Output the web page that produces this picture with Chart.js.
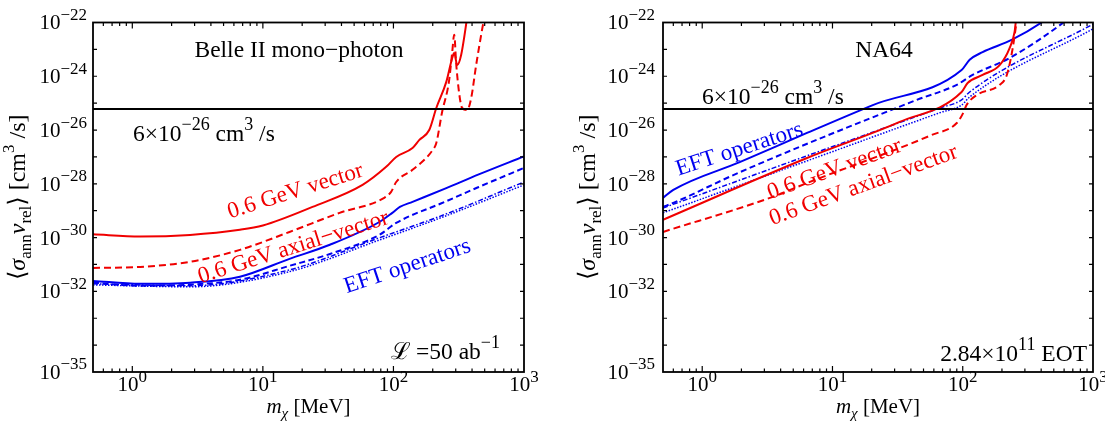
<!DOCTYPE html>
<html lang="en">
<head>
<meta charset="UTF-8">
<title>Annihilation cross section limits: Belle II and NA64</title>
<script src="https://cdn.jsdelivr.net/npm/chart.js"></script>
<style>
  body { margin: 0; background: #fff; }
  #wrap { position: relative; width: 1105px; height: 426px; overflow: hidden; }
  canvas { position: absolute; top: 0; }
  #belleChart { left: 0; }
  #na64Chart { left: 552px; }
</style>
</head>
<body>
<div id="wrap">
  <canvas id="belleChart" width="552" height="426"></canvas>
  <canvas id="na64Chart" width="553" height="426"></canvas>
</div>
<script>
// axis ranges and tick labels (m_chi in MeV, <sigma v> in cm^3/s)
const massRange = [0.5, 1000];
const sigmaRange = [1e-35, 1e-22];
const xTickExps = [0, 1, 2, 3];
const yTickExps = [-22, -24, -26, -28, -30, -32, -35];
const relicValue = 6e-26;

// Belle II mono-photon
const belleVecM = [0.5, 1.15, 2.77, 6.67, 10, 24, 58, 88, 105, 140, 158, 188, 213, 254, 282, 292, 308, 330, 370];
const belleVecS = [1.32e-30, 1.10e-30, 1.26e-30, 1.95e-30, 2.82e-30, 1.38e-29, 9.1e-29, 4.27e-28, 1.0e-27, 2.14e-27, 4.3e-27, 1.0e-26, 6.6e-26, 6.2e-25, 4.8e-24, 7.4e-24, 2.6e-24, 6.2e-24, 2.0e-22];
const belleAxM = [0.5, 1.15, 2.77, 6.67, 16, 38.7, 85, 96, 105, 140, 200, 213, 236, 266, 282, 292, 303, 320, 336, 367, 394, 430, 470, 510];
const belleAxS = [7.4e-32, 8.1e-32, 1.26e-31, 3.5e-31, 1.62e-30, 8.3e-30, 3.0e-29, 5.0e-29, 1.17e-28, 3.3e-28, 1.82e-27, 3.3e-27, 4.7e-26, 6.2e-25, 7.9e-24, 3.5e-23, 2.6e-24, 2.0e-25, 6.6e-26, 5.6e-26, 1.55e-25, 2.6e-24, 3.5e-23, 3.2e-22];
const belleEftM = [0.5, 1.15, 2.77, 6.67, 16, 32.6, 78, 98, 112, 140, 254, 450, 1000];
const belleEftS = [2.45e-32, 1.9e-32, 2.1e-32, 3.5e-32, 1.62e-31, 5.4e-31, 3.8e-30, 8.3e-30, 1.38e-29, 2.14e-29, 6.9e-29, 2.24e-28, 1.05e-27];
const belleEft2M = [0.5, 1.15, 2.77, 6.67, 16, 32.6, 78, 105, 254, 450, 1000];
const belleEft2S = [2.1e-32, 1.62e-32, 1.78e-32, 2.7e-32, 8.9e-32, 2.45e-31, 1.26e-30, 3.5e-30, 2.24e-29, 7.6e-29, 3.9e-28];
const belleEft3M = [0.5, 2.77, 16, 78, 254, 1000];
const belleEft3S = [1.9e-32, 1.62e-32, 6.3e-32, 9.8e-31, 7.6e-30, 1.17e-28];
const belleEft4M = [0.5, 2.77, 16, 78, 254, 1000];
const belleEft4S = [1.74e-32, 1.48e-32, 5.4e-32, 8.1e-31, 6.5e-30, 9.1e-29];

// NA64
const naVecM = [0.5, 6.37, 32.8, 98, 109, 142, 192, 229, 250, 259, 270];
const naVecS = [4.6e-30, 9.1e-28, 2.0e-26, 2.6e-25, 5.6e-25, 1.12e-24, 2.6e-24, 1.12e-23, 4.5e-23, 1.9e-22, 5e-22];
const naAxM = [0.5, 3.44, 6.37, 57.9, 90, 101, 107, 128, 192, 218, 242, 264, 275];
const naAxS = [1.62e-30, 3.2e-29, 1.07e-28, 6.6e-27, 1.82e-26, 4.4e-26, 8.5e-26, 2.0e-25, 4.8e-25, 1.12e-24, 1.12e-23, 1.9e-22, 5e-22];
const naEftM = [0.5, 0.6, 1.96, 6.37, 20.4, 98, 113, 142, 237, 409, 550];
const naEftS = [3.0e-29, 5.9e-29, 6.5e-28, 7.8e-27, 8.5e-26, 1.7e-24, 4.1e-24, 7.9e-24, 2.24e-23, 1.05e-22, 3.2e-22];
const naEft2M = [0.5, 0.6, 1.96, 44.4, 90, 119, 229, 584, 700];
const naEft2S = [1.38e-29, 1.95e-29, 2.75e-28, 1.32e-25, 4.8e-25, 1.12e-24, 4.8e-24, 9.5e-23, 2e-22];
const naEft3M = [0.5, 6.37, 66.6, 98, 113, 1000];
const naEft3S = [1.26e-29, 1.1e-27, 6.6e-26, 1.32e-25, 2.6e-25, 8.7e-23];
const naEft4M = [0.5, 6.37, 66.6, 98, 113, 1000];
const naEft4S = [8.3e-30, 7.1e-28, 4.4e-26, 8.5e-26, 1.7e-25, 5.8e-23];

const RED = '#f00000';
const BLUE = '#0000f0';
const FONT = '"Liberation Serif", "DejaVu Serif", serif';

function pts(ms, ss) {
    return ms.map((m, i) => ({ x: m, y: ss[i] }));
}

function curve(ms, ss, color, dash, width) {
    return {
        data: pts(ms, ss),
        borderColor: color,
        borderWidth: width || 2,
        borderDash: dash || [],
        pointRadius: 0,
        fill: false,
        cubicInterpolationMode: 'monotone'
    };
}

function relicLine() {
    return {
        data: pts(massRange, [relicValue, relicValue]),
        borderColor: '#000',
        borderWidth: 2,
        pointRadius: 0,
        fill: false
    };
}

// text with super/subscripts: parts = [{t, sup, sub, it}]
function fontFor(p, size, supScale) {
    const s = (p.sup || p.sub) ? Math.round(size * supScale) : size;
    return (p.it ? 'italic ' : '') + s + 'px ' + FONT;
}

function drawRich(ctx, parts, x, y, size, align, color, supScale) {
    const sc = supScale || 0.75;
    let w = 0;
    parts.forEach(p => {
        ctx.font = fontFor(p, size, sc);
        w += ctx.measureText(p.t).width;
    });
    let cx = x;
    if (align === 'center') cx = x - w / 2;
    if (align === 'right') cx = x - w;
    ctx.fillStyle = color || '#000';
    ctx.textAlign = 'left';
    ctx.textBaseline = 'alphabetic';
    parts.forEach(p => {
        ctx.font = fontFor(p, size, sc);
        let dy = 0;
        if (p.sup) dy = -size * 0.45;
        if (p.sub) dy = size * 0.25;
        ctx.fillText(p.t, cx, y + dy);
        cx += ctx.measureText(p.t).width;
    });
}

// frame, inward ticks, tick labels, axis titles and text notes
const framePlugin = {
    id: 'frameAndLabels',
    afterDatasetsDraw(chart, args, opts) {
        const ctx = chart.ctx;
        const a = chart.chartArea;
        const xs = chart.scales.x;
        const ys = chart.scales.y;
        ctx.save();
        ctx.strokeStyle = '#000';
        ctx.lineWidth = 1.2;
        ctx.beginPath();
        for (let k = -1; k <= 3; k++) {
            for (let j = 1; j <= 9; j++) {
                const v = j * Math.pow(10, k);
                if (v <= xs.min * 1.001 || v >= xs.max * 0.999) continue;
                const px = xs.getPixelForValue(v);
                const len = j === 1 ? 6 : 3.5;
                ctx.moveTo(px, a.bottom); ctx.lineTo(px, a.bottom - len);
                ctx.moveTo(px, a.top); ctx.lineTo(px, a.top + len);
            }
        }
        for (let e = -34; e <= -23; e++) {
            const py = ys.getPixelForValue(Math.pow(10, e));
            ctx.moveTo(a.left, py); ctx.lineTo(a.left + 4, py);
            ctx.moveTo(a.right, py); ctx.lineTo(a.right - 4, py);
        }
        ctx.stroke();
        ctx.lineWidth = 1.8;
        ctx.strokeRect(a.left, a.top, a.right - a.left, a.bottom - a.top);

        const size = 21;
        yTickExps.forEach(e => {
            const py = ys.getPixelForValue(Math.pow(10, e));
            drawRich(ctx, [{ t: '10' }, { t: '\u2212' + String(-e), sup: true }],
                a.left - opts.labelGap, py + size * 0.33, size, 'right', '#000', 0.8);
        });
        xTickExps.forEach(e => {
            const px = xs.getPixelForValue(Math.pow(10, e));
            drawRich(ctx, [{ t: '10' }, { t: String(e), sup: true }], px, a.bottom + 19, size, 'center', '#000', 0.8);
        });

        // axis titles
        drawRich(ctx, [{ t: 'm', it: true }, { t: '\u03c7', it: true, sub: true }, { t: ' [MeV]' }],
            (a.left + a.right) / 2, 413, 21, 'center', '#000', 0.72);
        ctx.save();
        ctx.translate(a.left - 68, (a.top + a.bottom) / 2);
        ctx.rotate(-Math.PI / 2);
        drawRich(ctx, [{ t: '\u27e8' }, { t: '\u03c3', it: true }, { t: 'ann', sub: true },
            { t: 'v', it: true }, { t: 'rel', sub: true }, { t: '\u27e9 [cm' }, { t: '3', sup: true }, { t: ' /s]' }],
            0, 0, 24, 'center', '#000', 0.72);
        ctx.restore();

        opts.notes.forEach(n => {
            ctx.save();
            ctx.translate(n.x, n.y);
            if (n.angle) ctx.rotate(n.angle * Math.PI / 180);
            drawRich(ctx, n.parts, 0, n.angle ? n.size * 0.33 : 0, n.size, n.align || 'left', n.color, 0.75);
            ctx.restore();
        });
        ctx.restore();
    }
};

function makeChart(id, datasets, pad, labelGap, notes) {
    return new Chart(document.getElementById(id), {
        type: 'line',
        data: { datasets: datasets },
        options: {
            responsive: false,
            animation: false,
            devicePixelRatio: 1,
            layout: { padding: pad },
            plugins: {
                legend: { display: false },
                tooltip: { enabled: false },
                frameAndLabels: { notes: notes, labelGap: labelGap }
            },
            scales: {
                x: { type: 'logarithmic', min: massRange[0], max: massRange[1], display: false },
                y: { type: 'logarithmic', min: sigmaRange[0], max: sigmaRange[1], display: false }
            }
        },
        plugins: [framePlugin]
    });
}

const relicText = [{ t: '6\u00d710' }, { t: '\u221226', sup: true }, { t: ' cm' }, { t: '3', sup: true }, { t: ' /s' }];

makeChart('belleChart', [
    relicLine(),
    curve(belleVecM, belleVecS, RED),
    curve(belleAxM, belleAxS, RED, [7, 4]),
    curve(belleEftM, belleEftS, BLUE),
    curve(belleEft2M, belleEft2S, BLUE, [6, 3.5]),
    curve(belleEft3M, belleEft3S, BLUE, [5, 2, 1.5, 2], 1.5),
    curve(belleEft4M, belleEft4S, BLUE, [1.5, 1.5], 1.5)
], { left: 93, right: 28, top: 22.5, bottom: 54 }, 6, [
    { parts: [{ t: 'Belle II mono\u2212photon' }], x: 299, y: 57, size: 23.5, align: 'center' },
    { parts: relicText, x: 133, y: 141, size: 23.5 },
    { parts: [{ t: '0.6 GeV vector' }], x: 295, y: 190, size: 23, align: 'center', angle: -17.5, color: RED },
    { parts: [{ t: '0.6 GeV axial\u2212vector' }], x: 293, y: 246, size: 23, align: 'center', angle: -17.5, color: RED },
    { parts: [{ t: 'EFT operators' }], x: 407, y: 265, size: 23, align: 'center', angle: -18.5, color: BLUE },
    { parts: [{ t: '\u2112' }, { t: '\u2009=50 ab' }, { t: '\u22121', sup: true }], x: 500, y: 359, size: 23.5, align: 'right' }
]);

makeChart('na64Chart', [
    relicLine(),
    curve(naVecM, naVecS, RED),
    curve(naAxM, naAxS, RED, [7, 4]),
    curve(naEftM, naEftS, BLUE),
    curve(naEft2M, naEft2S, BLUE, [6, 3.5]),
    curve(naEft3M, naEft3S, BLUE, [5, 2, 1.5, 2], 1.5),
    curve(naEft4M, naEft4S, BLUE, [1.5, 1.5], 1.5)
], { left: 111, right: 12, top: 22.5, bottom: 54 }, 8, [
    { parts: [{ t: 'NA64' }], x: 332, y: 57, size: 23.5, align: 'center' },
    { parts: relicText, x: 150, y: 104, size: 23.5 },
    { parts: [{ t: 'EFT operators' }], x: 187, y: 148, size: 23, align: 'center', angle: -18, color: BLUE },
    { parts: [{ t: '0.6 GeV vector' }], x: 282, y: 168, size: 23, align: 'center', angle: -20, color: RED },
    { parts: [{ t: '0.6 GeV axial\u2212vector' }], x: 311, y: 184, size: 23, align: 'center', angle: -20, color: RED },
    { parts: [{ t: '2.84\u00d710' }, { t: '11', sup: true }, { t: ' EOT' }], x: 535, y: 361, size: 23.5, align: 'right' }
]);
</script>
</body>
</html>
